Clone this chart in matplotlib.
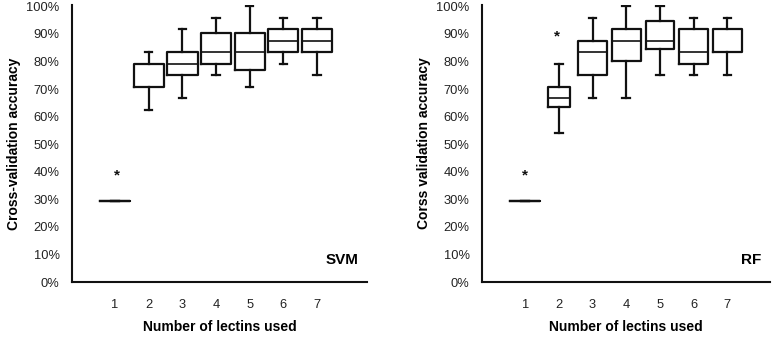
import matplotlib
matplotlib.use('Agg')
import matplotlib.pyplot as plt
from matplotlib.ticker import PercentFormatter

plt.rcParams['font.family'] = ['Liberation Sans', 'DejaVu Sans']

n_lectins = [1, 2, 3, 4, 5, 6, 7]
tick_labels = ['1', '2', '3', '4', '5', '6', '7']

# five-number summaries (%), per number of lectins
svm_min = [29.5, 62.5, 66.7, 75.0, 70.8, 79.2, 75.0]
svm_q1 = [29.5, 70.8, 75.0, 79.2, 77.1, 83.3, 83.3]
svm_med = [29.5, 70.8, 79.2, 83.3, 83.3, 87.5, 87.5]
svm_q3 = [29.5, 79.2, 83.3, 90.5, 90.5, 91.7, 91.7]
svm_max = [29.5, 83.3, 91.7, 95.8, 100.0, 95.8, 95.8]

rf_min = [29.5, 54.2, 66.7, 66.7, 75.0, 75.0, 75.0]
rf_q1 = [29.5, 63.5, 75.0, 80.2, 84.4, 79.2, 83.3]
rf_med = [29.5, 66.7, 83.3, 87.5, 87.5, 83.3, 83.3]
rf_q3 = [29.5, 70.8, 87.5, 91.7, 94.8, 91.7, 91.7]
rf_max = [29.5, 79.2, 95.8, 100.0, 100.0, 95.8, 95.8]

svm_stars = [(1.05, 38.5)]
rf_stars = [(1, 38.5), (1.95, 89.0)]

svm_widths = [0.9, 0.9, 0.9, 0.9, 0.9, 0.9, 0.9]
rf_widths = [0.9, 0.66, 0.85, 0.85, 0.85, 0.85, 0.85]


def make_stats(mins, q1s, meds, q3s, maxs):
    stats = []
    for lo, q1, med, q3, hi in zip(mins, q1s, meds, q3s, maxs):
        stats.append({'whislo': lo, 'q1': q1, 'med': med, 'q3': q3,
                      'whishi': hi, 'fliers': []})
    return stats


def draw_panel(ax, stats, widths, stars, ylabel, tag, xmax):
    line = dict(color='#111111', linewidth=1.6)
    ax.bxp(stats, positions=n_lectins, widths=widths, showfliers=False,
           boxprops=line, medianprops=dict(color='#111111', linewidth=1.2),
           whiskerprops=line, capprops=line, capwidths=0.22,
           manage_ticks=False)
    for x, y in stars:
        ax.text(x, y, '*', ha='center', va='center', fontsize=11,
                fontweight='bold', color='#111111')
    ax.set_xlim(-0.28, xmax)
    ax.set_ylim(0, 100.5)
    ax.set_yticks(range(0, 101, 10))
    ax.yaxis.set_major_formatter(PercentFormatter(decimals=0))
    ax.set_xticks(n_lectins)
    ax.set_xticklabels(tick_labels)
    ax.tick_params(axis='both', length=0, labelsize=9.3, colors='#222222')
    ax.tick_params(axis='x', pad=12)
    ax.tick_params(axis='y', pad=9)
    for side in ['top', 'right']:
        ax.spines[side].set_visible(False)
    for side in ['left', 'bottom']:
        ax.spines[side].set_linewidth(1.5)
        ax.spines[side].set_color('#111111')
    ax.set_xlabel('Number of lectins used', fontsize=10, fontweight='bold',
                  labelpad=7)
    ax.set_ylabel(ylabel, fontsize=10, fontweight='bold', labelpad=4)
    ax.text(0.97, 0.08, tag, transform=ax.transAxes, ha='right', va='center',
            fontsize=11, fontweight='bold')


fig = plt.figure(figsize=(7.75, 3.37), dpi=100)
ax1 = fig.add_axes([0.093, 0.163, 0.381, 0.822])
ax2 = fig.add_axes([0.622, 0.163, 0.372, 0.822])

draw_panel(ax1, make_stats(svm_min, svm_q1, svm_med, svm_q3, svm_max),
           svm_widths, svm_stars, 'Cross-validation accuracy', 'SVM', 8.5)
draw_panel(ax2, make_stats(rf_min, rf_q1, rf_med, rf_q3, rf_max),
           rf_widths, rf_stars, 'Corss validation accuracy', 'RF', 8.28)

fig.savefig('out.png', dpi=100)
